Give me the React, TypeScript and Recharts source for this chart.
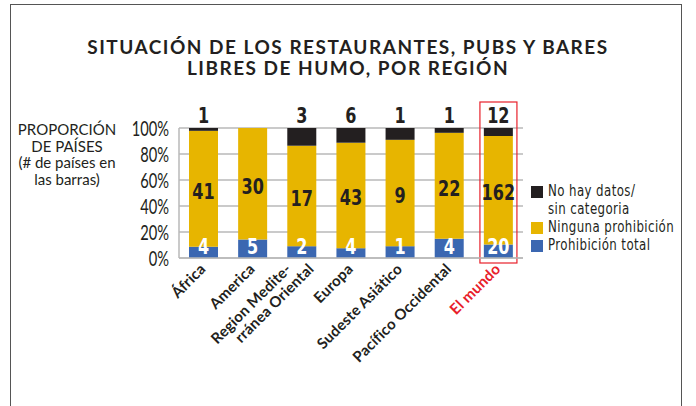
import React from 'react';
import {
  BarChart,
  Bar,
  XAxis,
  YAxis,
  CartesianGrid,
  LabelList,
  ReferenceArea,
} from 'recharts';

const regions = [
  'África',
  'America',
  'Region Medite-\nrránea Oriental',
  'Europa',
  'Sudeste Asiático',
  'Pacífico Occidental',
  'El mundo',
];
const totalBan = [4, 5, 2, 4, 1, 4, 20];
const noBan = [41, 30, 17, 43, 9, 22, 162];
const noData = [1, 0, 3, 6, 1, 1, 12];
const yTicks = [0, 0.2, 0.4, 0.6, 0.8, 1];

const data = regions.map((region, i) => ({
  region,
  total: totalBan[i],
  none: noBan[i],
  nodata: noData[i],
}));

const BLUE = '#3b67b1';
const YELLOW = '#e7b500';
const BLACK = '#231f20';
const GRID = '#b8b8b8';
const RED = '#e8202a';
const NARROW = '"DejaVu Sans Condensed", "DejaVu Sans", sans-serif';

// legend order top to bottom
const legendItems = [
  { label: ['No hay datos/', 'sin categoria'], color: BLACK },
  { label: ['Ninguna prohibición'], color: YELLOW },
  { label: ['Prohibición total'], color: BLUE },
];

const numStyle = {
  fontFamily: NARROW,
  fontStretch: 'condensed',
  fontWeight: 700,
  fontSize: 21,
};

// condensed number drawn at (cx, baseline)
const Num = ({ cx, by, fill, value }: any) => (
  <text transform={`translate(${cx},${by}) scale(0.85,1)`} textAnchor="middle" fill={fill} style={numStyle}>
    {value}
  </text>
);

const BlueLabel = (props: any) => {
  const { x, y, width, height, value } = props;
  return <Num cx={x + width / 2} by={y + height - 4} fill="#fff" value={value} />;
};

const YellowLabel = (props: any) => {
  const { x, y, width, height, value } = props;
  return <Num cx={x + width / 2} by={y + height / 2 + 10} fill={BLACK} value={value} />;
};

const TopLabel = (props: any) => {
  const { x, y, width, value } = props;
  if (!value) return null;
  return <Num cx={x + width / 2} by={y - 5} fill={BLACK} value={value} />;
};

const PctTick = (props: any) => {
  const { x, y, payload } = props;
  return (
    <text
      transform={`translate(${x},${y}) scale(0.7,1)`}
      textAnchor="end"
      dominantBaseline="central"
      fill={BLACK}
      style={{ fontFamily: 'Lato, sans-serif', fontSize: 21 }}
    >
      {`${Math.round(payload.value * 100)}%`}
    </text>
  );
};

const RegionTick = (props: any) => {
  const { x, y, payload } = props;
  const lines: string[] = String(payload.value).split('\n');
  const fill = payload.value === 'El mundo' ? RED : BLACK;
  const style = { fontFamily: 'Lato, sans-serif', fontWeight: 700, fontSize: 15, letterSpacing: 0.2 };
  return (
    <g transform={`translate(${x + 3},${y + 12}) rotate(-45)`}>
      {lines.length === 1 ? (
        <text textAnchor="end" fill={fill} style={style}>
          {lines[0]}
        </text>
      ) : (
        lines.map((l, i) => (
          <text key={l} x={i === 0 ? -9 : 7} y={i === 0 ? -9 : 7} textAnchor="end" fill={fill} style={style}>
            {l}
          </text>
        ))
      )}
    </g>
  );
};

// red frame around the world column
const WorldBox = (props: any) => {
  const { x, y, width, height } = props;
  const cx = x + width / 2;
  return (
    <rect
      x={cx - 18.5}
      y={y - 26}
      width={37}
      height={height + 31}
      fill="none"
      stroke={RED}
      strokeWidth={1.2}
    />
  );
};

export default function App() {
  return (
    <div
      style={{
        position: 'fixed',
        left: 0,
        top: 0,
        width: 696,
        height: 406,
        overflow: 'hidden',
        background: '#fff',
      }}
    >
      <div
        style={{
          position: 'absolute',
          left: 10,
          top: 4,
          width: 670,
          height: 500,
          borderLeft: '1.5px solid #555',
          borderTop: '1.5px solid #555',
          borderRight: '1.5px solid #555',
        }}
      />
      <div
        style={{
          position: 'absolute',
          left: 0,
          top: 36,
          width: 696,
          textAlign: 'center',
          fontFamily: 'Lato, sans-serif',
          fontWeight: 700,
          fontSize: 19,
          lineHeight: '21px',
          letterSpacing: 1.5,
          color: BLACK,
        }}
      >
        <div>SITUACIÓN DE LOS RESTAURANTES, PUBS Y BARES</div>
        <div>LIBRES DE HUMO, POR REGIÓN</div>
      </div>
      <div
        style={{
          position: 'absolute',
          left: 7,
          top: 121,
          width: 120,
          textAlign: 'center',
          fontFamily: 'Lato, sans-serif',
          fontSize: 15,
          lineHeight: '16.5px',
          color: BLACK,
        }}
      >
        <div>PROPORCIÓN</div>
        <div>DE PAÍSES</div>
        <div>(# de países en</div>
        <div>las barras)</div>
      </div>
      <div style={{ position: 'absolute', left: 0, top: 0 }}>
        <BarChart
          width={696}
          height={406}
          data={data}
          stackOffset="expand"
          barSize={29}
          margin={{ top: 128, right: 173, bottom: 0, left: 0 }}
        >
          <CartesianGrid vertical={false} stroke={GRID} strokeWidth={1.5} />
          <XAxis
            dataKey="region"
            interval={0}
            height={148}
            tickLine={false}
            tickSize={0}
            tickMargin={0}
            axisLine={{ stroke: GRID, strokeWidth: 1.5 }}
            tick={<RegionTick />}
          />
          <YAxis
            type="number"
            domain={[0, 1]}
            ticks={yTicks}
            interval={0}
            width={179}
            tickLine={false}
            tickSize={6}
            tickMargin={4}
            axisLine={{ stroke: GRID, strokeWidth: 1.5 }}
            tick={<PctTick />}
          />
          <ReferenceArea
            x1="El mundo"
            x2="El mundo"
            y1={0}
            y2={1}
            ifOverflow="visible"
            shape={<WorldBox />}
          />
          <Bar dataKey="total" stackId="a" fill={BLUE} isAnimationActive={false}>
            <LabelList dataKey="total" content={<BlueLabel />} />
          </Bar>
          <Bar dataKey="none" stackId="a" fill={YELLOW} isAnimationActive={false}>
            <LabelList dataKey="none" content={<YellowLabel />} />
          </Bar>
          <Bar dataKey="nodata" stackId="a" fill={BLACK} isAnimationActive={false}>
            <LabelList dataKey="nodata" content={<TopLabel />} />
          </Bar>
        </BarChart>
      </div>
      <div
        style={{
          position: 'absolute',
          left: 531,
          top: 182,
          fontFamily: NARROW,
          fontStretch: 'condensed',
          fontSize: 16,
          letterSpacing: 0.5,
          color: BLACK,
          whiteSpace: 'nowrap',
        }}
      >
        {legendItems.map((it) => (
          <div key={it.label[0]} style={{ display: 'flex', alignItems: 'flex-start' }}>
            <span
              style={{
                display: 'inline-block',
                width: 12,
                height: 12,
                background: it.color,
                marginTop: 4,
                marginRight: 5,
                flexShrink: 0,
              }}
            />
            <div style={{ lineHeight: '18px', transform: 'scaleX(0.82)', transformOrigin: 'left' }}>
              {it.label.map((l) => (
                <div key={l}>{l}</div>
              ))}
            </div>
          </div>
        ))}
      </div>
    </div>
  );
}
